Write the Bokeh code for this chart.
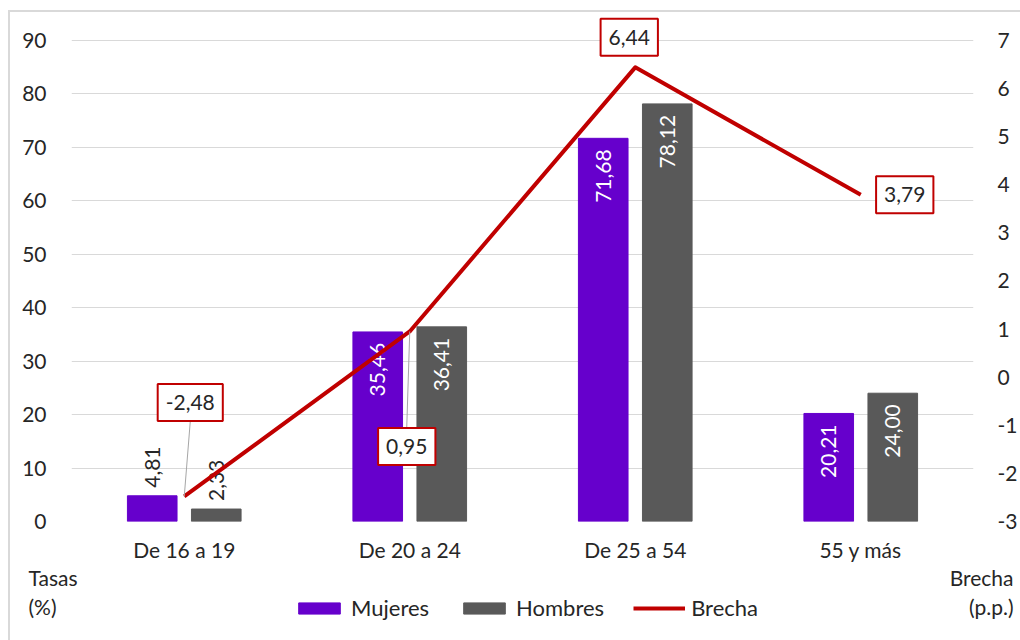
import math
from bokeh.plotting import figure
from bokeh.layouts import column
from bokeh.models import (FactorRange, Range1d, LinearAxis, SingleIntervalTicker,
                          Legend, Label, ColumnDataSource, PrintfTickFormatter)
from bokeh.transform import dodge
from bokeh.core.properties import value
from bokeh.embed import file_html
from bokeh.resources import INLINE

# ---------------- data ----------------
categories = ["De 16 a 19", "De 20 a 24", "De 25 a 54", "55 y más"]
mujeres = [4.81, 35.46, 71.68, 20.21]
hombres = [2.33, 36.41, 78.12, 24.00]
brecha = [-2.48, 0.95, 6.44, 3.79]
series_names = ["Mujeres", "Hombres", "Brecha"]
left_axis_title = "Tasas\n(%)"
right_axis_title = "Brecha\n(p.p.)"
left_range = (0, 90)
right_range = (-3, 7)

# ---------------- style ----------------
FONT = "Lato"
FS = "21px"
FS_LEG = "22px"
TXT = "#262626"
C_M = "#6600CC"
C_H = "#595959"
C_B = "#C00000"
GRID = "#D9D9D9"

W = 1010
ML, MR = 61, 45
HEAD = 28            # px of free space above the 90 / 7 gridline
AXIS_H = 483         # px from 0 to 90
MB = 41              # room for the category labels
FW = W - ML - MR
FH = HEAD + AXIS_H
H1 = FH + MB
H2 = 628 - H1
BAR_W = 0.22
OFF = 0.142
# screen offsets of the gap labels from their points (dx, dy), y down
lbl_off = [(6, -94), (-3, 115), (-6, -30), (44, 0)]
PX_PER_CAT = FW / len(categories)
PX_PER_L = AXIS_H / (left_range[1] - left_range[0])
PX_PER_B = AXIS_H / (right_range[1] - right_range[0])


def fmt(v):
    return f"{v:.2f}".replace(".", ",")


p = figure(width=W, height=H1,
           x_range=FactorRange(*categories, range_padding=0),
           y_range=Range1d(left_range[0], left_range[1] + HEAD / PX_PER_L),
           output_backend="svg", toolbar_location=None,
           min_border_left=ML, min_border_top=0,
           min_border_right=MR, min_border_bottom=MB)
p.extra_y_ranges = {"brecha": Range1d(right_range[0], right_range[1] + HEAD / PX_PER_B)}
p.outline_line_color = None
p.background_fill_color = "white"
p.border_fill_color = "white"

src = ColumnDataSource(dict(cat=categories, m=mujeres, h=hombres, b=brecha,
                            b_lbl=[fmt(v) for v in brecha],
                            dx=[o[0] for o in lbl_off], dy=[o[1] for o in lbl_off]))

rm = p.vbar(x=dodge("cat", -OFF, range=p.x_range), top="m", width=BAR_W,
            source=src, fill_color=C_M, line_color=C_M)
rh = p.vbar(x=dodge("cat", OFF, range=p.x_range), top="h", width=BAR_W,
            source=src, fill_color=C_H, line_color=C_H)

# bar value labels (rotated)
for vals, off in ((mujeres, -OFF), (hombres, OFF)):
    inside = dict(cat=[], v=[], t=[])
    outside = dict(cat=[], v=[], t=[])
    for c, v in zip(categories, vals):
        d = inside if v >= 10 else outside
        d["cat"].append(c); d["v"].append(v); d["t"].append(fmt(v))
    if inside["cat"]:
        p.text(x=dodge("cat", off, range=p.x_range), y="v", text="t",
               source=ColumnDataSource(inside), angle=math.pi / 2,
               text_align="right", text_baseline="middle", y_offset=11,
               text_color="white", text_font=value(FONT), text_font_size=FS)
    if outside["cat"]:
        p.text(x=dodge("cat", off, range=p.x_range), y="v", text="t",
               source=ColumnDataSource(outside), angle=math.pi / 2,
               text_align="left", text_baseline="middle", y_offset=-8,
               text_color=TXT, text_font=value(FONT), text_font_size=FS)

rb = p.line(x="cat", y="b", y_range_name="brecha", source=src,
            line_color=C_B, line_width=4, line_join="round")

# leader lines for labels placed far from their points
BOX_HALF = 19
for c, b, (dx, dy) in zip(categories, brecha, lbl_off):
    if abs(dy) > 40:
        s = 1 if dy > 0 else -1
        y1 = b - (dy - s * BOX_HALF) / PX_PER_B
        p.segment(x0=dodge("cat", 0, range=p.x_range), y0="b",
                  x1=dodge("cat", dx / PX_PER_CAT, range=p.x_range), y1="y1",
                  source=ColumnDataSource(dict(cat=[c], b=[b], y1=[y1])),
                  y_range_name="brecha", line_color="#A6A6A6", line_width=1)

p.text(x="cat", y="b", text="b_lbl", source=src, y_range_name="brecha",
       x_offset="dx", y_offset="dy", text_align="center", text_baseline="middle",
       text_color=TXT, text_font=value(FONT), text_font_size=FS,
       border_line_color=C_B, border_line_width=2, background_fill_color="white",
       padding=(8, 11))

# axes
p.yaxis[0].ticker = SingleIntervalTicker(interval=10)
ra = LinearAxis(y_range_name="brecha", ticker=SingleIntervalTicker(interval=1),
                formatter=PrintfTickFormatter(format="%d"))
p.add_layout(ra, "right")
for ax in (p.yaxis[0], ra, p.xaxis[0]):
    ax.axis_line_color = None
    ax.major_tick_line_color = None
    ax.minor_tick_line_color = None
    ax.major_tick_out = 0
    ax.major_tick_in = 0
    ax.major_label_text_font = FONT
    ax.major_label_text_font_size = FS
    ax.major_label_text_color = TXT
p.yaxis[0].major_label_standoff = 21
ra.major_label_standoff = 20
p.xaxis[0].major_label_standoff = 15

p.ygrid.grid_line_color = GRID
p.ygrid.grid_line_width = 1
p.xgrid.grid_line_color = None

# ---------------- footer: legend and axis titles ----------------
# the footer's ranges keep its series out of view; they only feed the legend
f = figure(width=W, height=H2, x_range=FactorRange(*categories),
           y_range=Range1d(1000, 1001), extra_y_ranges={"brecha": Range1d(1000, 1001)},
           x_axis_type=None, y_axis_type=None, output_backend="svg",
           toolbar_location=None, min_border=0)
f.outline_line_color = None
f.grid.visible = False
lm = f.vbar(x="cat", top="m", width=0.2, source=src, fill_color=C_M, line_color=C_M)
lh = f.vbar(x="cat", top="h", width=0.2, source=src, fill_color=C_H, line_color=C_H)
lb = f.line(x="cat", y="b", source=src, y_range_name="brecha", line_color=C_B, line_width=4)

try:
    p.frame_align = False
    f.frame_align = False
except Exception:
    pass

legend = Legend(items=[(series_names[0], [lm]), (series_names[1], [lh]), (series_names[2], [lb])],
                orientation="horizontal", location=(283, 19),
                glyph_width=52, glyph_height=14, label_standoff=6, spacing=29,
                padding=0, margin=0, border_line_color=None, background_fill_alpha=0,
                label_text_font=FONT, label_text_font_size=FS_LEG, label_text_color=TXT)
f.add_layout(legend)

f.add_layout(Label(x=18, y=H2, x_units="screen", y_units="screen", text=left_axis_title,
                   text_align="left", text_baseline="top", text_line_height=1.18,
                   text_font=FONT, text_font_size=FS, text_color=TXT))
f.add_layout(Label(x=1003, y=H2, x_units="screen", y_units="screen", text=right_axis_title,
                   text_align="right", text_baseline="top", text_line_height=1.18,
                   text_font=FONT, text_font_size=FS, text_color=TXT))

root = column(p, f, spacing=0)
root.styles = {"margin-left": "8px", "margin-top": "10px",
               "border-left": "2px solid #D9D9D9", "border-top": "2px solid #D9D9D9"}

open("out.html", "w").write(file_html(root, INLINE))
